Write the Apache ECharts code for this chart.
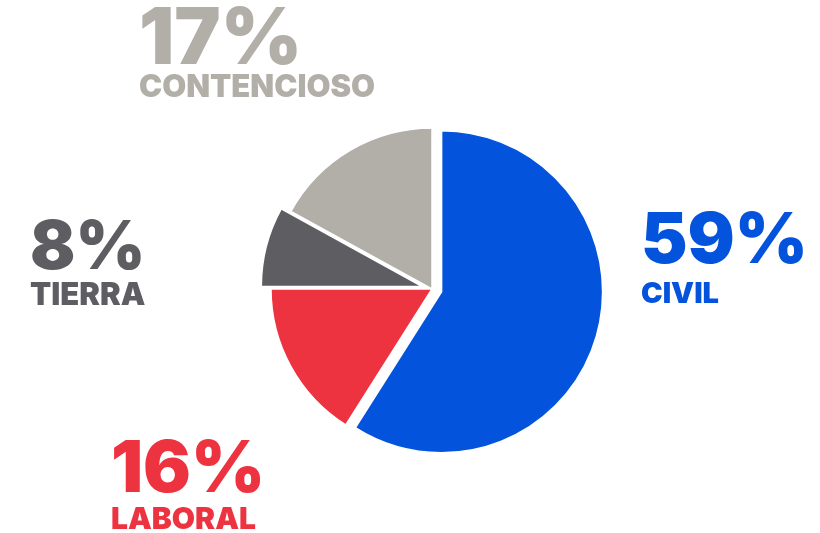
<!DOCTYPE html>
<html>
<head>
<meta charset="utf-8">
<script src="https://cdn.jsdelivr.net/npm/echarts@6/dist/echarts.min.js"></script>
<style>
  html, body { margin: 0; padding: 0; background: #fff; }
  #chart { width: 820px; height: 533px; }
</style>
</head>
<body>
<div id="chart"></div>
<script>
// datos del gráfico
var categories = ['CIVIL', 'LABORAL', 'TIERRA', 'CONTENCIOSO'];
var values = [59, 16, 8, 17];
var pulled = [true, false, true, false];

var colors = ['#0353dc', '#ee3340', '#5e5d62', '#b2aea8'];
var fontFamily = 'Inter, "Noto Sans", sans-serif';

// posición de cada rótulo: [x, y del %, y del nombre, tamaño %, tamaño nombre]
var labelPos = [
  [641, 242, 294, 70, 29],
  [111, 471, 520, 71, 30],
  [30, 249, 296, 67, 31],
  [139, 41, 88, 78, 31]
];

var chart = echarts.init(document.getElementById('chart'));

var pieData = categories.map(function (name, i) {
  return {
    name: name,
    value: values[i],
    selected: pulled[i],
    itemStyle: { color: colors[i] }
  };
});

var texts = [];
categories.forEach(function (name, i) {
  var p = labelPos[i];
  texts.push({
    type: 'text',
    left: p[0],
    top: p[1] - p[3] * 0.5,
    style: {
      text: values[i] + '%',
      fill: colors[i],
      font: '900 ' + p[3] + 'px ' + fontFamily,
      textVerticalAlign: 'top'
    }
  });
  texts.push({
    type: 'text',
    left: p[0],
    top: p[2] - p[4] * 0.5,
    style: {
      text: name,
      fill: colors[i],
      font: '900 ' + p[4] + 'px ' + fontFamily,
      textVerticalAlign: 'top'
    }
  });
});

var option = {
  backgroundColor: '#fff',
  animation: false,
  graphic: texts,
  series: [{
    type: 'pie',
    center: [432, 289],
    radius: 161,
    startAngle: 90,
    clockwise: true,
    selectedMode: 'multiple',
    selectedOffset: 10,
    silent: true,
    label: { show: false },
    labelLine: { show: false },
    itemStyle: { borderColor: '#fff', borderWidth: 1.5 },
    data: pieData
  }]
};

chart.setOption(option);
</script>
</body>
</html>
